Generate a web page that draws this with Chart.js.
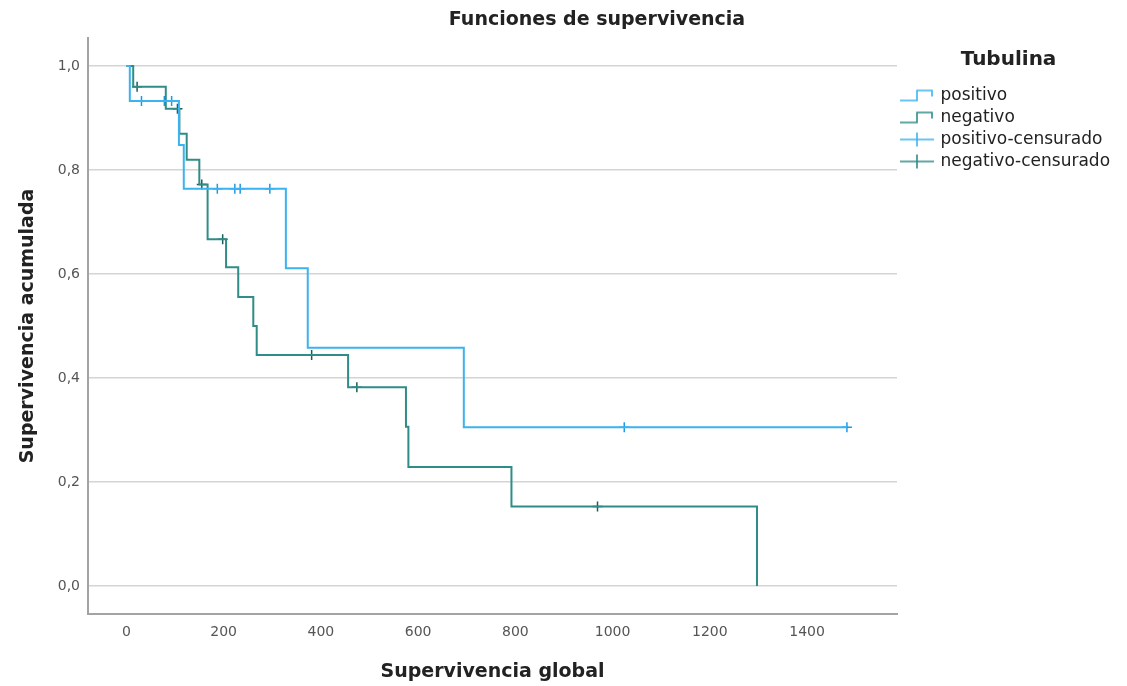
<!DOCTYPE html>
<html>
<head>
<meta charset="utf-8">
<title>Funciones de supervivencia</title>
<script src="https://cdn.jsdelivr.net/npm/chart.js@4.4.1/dist/chart.umd.min.js"></script>
<style>
  html, body { margin: 0; padding: 0; background: #fff; }
  #wrap { width: 1127px; height: 686px; }
</style>
</head>
<body>
<div id="wrap"><canvas id="myChart" width="1127" height="686"></canvas></div>
<script>
// Kaplan-Meier steps: time (days) and cumulative survival after each event
const posTimes = [0, 7, 108, 118, 328, 373, 694, 1482];
const posSurv  = [1, 0.933, 0.848, 0.764, 0.611, 0.458, 0.305, 0.305];
const negTimes = [0, 14, 81, 109, 124, 150, 167, 205, 230, 261, 268, 456, 575, 580, 792, 1297];
const negSurv  = [1, 0.96, 0.918, 0.87, 0.82, 0.772, 0.667, 0.613, 0.556, 0.50, 0.444, 0.382, 0.306, 0.229, 0.153, 0];

// censored cases (+ marks)
const posCensTimes = [31, 78, 93, 187, 223, 234, 295, 1024, 1482];
const posCensSurv  = [0.933, 0.933, 0.933, 0.764, 0.764, 0.764, 0.764, 0.305, 0.305];
const negCensTimes = [22, 105, 155, 198, 381, 474, 969];
const negCensSurv  = [0.96, 0.918, 0.772, 0.667, 0.444, 0.382, 0.153];

const groupNames = ['positivo', 'negativo', 'positivo-censurado', 'negativo-censurado'];
const xTicks = [0, 200, 400, 600, 800, 1000, 1200, 1400];
const yTicks = [0, 0.2, 0.4, 0.6, 0.8, 1.0];

const posColor = '#3bb3f0';
const negColor = '#2f8c86';
const posMark = '#1d9ae6';
const negMark = '#175e59';

const FONT = "'DejaVu Sans', sans-serif";
Chart.defaults.font.family = FONT;

function toPoints(xs, ys) {
  return xs.map((x, i) => ({x: x, y: ys[i]}));
}

// little step / cross pictures for the legend
function stepIcon(color) {
  const c = document.createElement('canvas');
  c.width = 34; c.height = 14;
  const g = c.getContext('2d');
  g.strokeStyle = color;
  g.lineWidth = 1.6;
  g.beginPath();
  g.moveTo(0, 12); g.lineTo(17, 12); g.lineTo(17, 2); g.lineTo(32, 2); g.lineTo(32, 8);
  g.stroke();
  return c;
}
function crossIcon(color) {
  const c = document.createElement('canvas');
  c.width = 34; c.height = 16;
  const g = c.getContext('2d');
  g.strokeStyle = color;
  g.lineWidth = 1.6;
  g.beginPath();
  g.moveTo(0, 8); g.lineTo(34, 8);
  g.moveTo(17, 1); g.lineTo(17, 15);
  g.stroke();
  return c;
}
const legendIcons = [stepIcon(posColor), stepIcon(negColor), crossIcon(posColor), crossIcon(negColor)];

// main heading drawn above the plot
const headingPlugin = {
  id: 'heading',
  afterDraw(chart, args, opts) {
    const ctx = chart.ctx;
    ctx.save();
    ctx.font = 'bold 19px ' + FONT;
    ctx.fillStyle = '#222';
    ctx.textAlign = 'center';
    ctx.textBaseline = 'middle';
    ctx.fillText(opts.text, opts.x, opts.y);
    ctx.restore();
  }
};

const ctx = document.getElementById('myChart');
const chart = new Chart(ctx, {
  type: 'scatter',
  data: {
    datasets: [
      {
        label: groupNames[0],
        data: toPoints(posTimes, posSurv),
        showLine: true,
        stepped: 'before',
        borderColor: posColor,
        borderWidth: 2,
        pointRadius: 0,
        pointHitRadius: 0
      },
      {
        label: groupNames[1],
        data: toPoints(negTimes, negSurv),
        showLine: true,
        stepped: 'before',
        borderColor: negColor,
        borderWidth: 2,
        pointRadius: 0,
        pointHitRadius: 0
      },
      {
        label: groupNames[2],
        data: toPoints(posCensTimes, posCensSurv),
        pointStyle: 'cross',
        pointRadius: 5,
        pointBorderWidth: 1.5,
        borderColor: posMark,
        backgroundColor: posMark
      },
      {
        label: groupNames[3],
        data: toPoints(negCensTimes, negCensSurv),
        pointStyle: 'cross',
        pointRadius: 5,
        pointBorderWidth: 1.5,
        borderColor: negMark,
        backgroundColor: negMark
      }
    ]
  },
  options: {
    responsive: false,
    animation: false,
    devicePixelRatio: 1,
    layout: { padding: { top: 38, right: 0, bottom: 0, left: 0 } },
    scales: {
      x: {
        type: 'linear',
        min: -79,
        max: 1585,
        afterBuildTicks: (s) => { s.ticks = xTicks.map(v => ({value: v})); },
        afterFit: (s) => { s.height = 72; },
        grid: { display: false, drawTicks: false },
        border: { display: true, color: '#a3a3a3', width: 2 },
        ticks: {
          color: '#555',
          font: { size: 14 },
          padding: 10,
          maxRotation: 0,
          callback: (v) => String(v)
        },
        title: {
          display: true,
          text: 'Supervivencia global',
          color: '#222',
          font: { size: 19, weight: 'bold' },
          padding: { top: 0, bottom: 3 }
        }
      },
      y: {
        type: 'linear',
        min: -0.054,
        max: 1.054,
        afterBuildTicks: (s) => { s.ticks = yTicks.map(v => ({value: v})); },
        afterFit: (s) => { s.width = 88; },
        grid: { color: '#d4d4d4', lineWidth: 1.5, drawTicks: false },
        border: { display: true, color: '#a3a3a3', width: 2 },
        ticks: {
          color: '#555',
          font: { size: 14 },
          padding: 8,
          callback: (v) => v.toFixed(1).replace('.', ',')
        },
        title: {
          display: true,
          text: 'Supervivencia acumulada',
          color: '#222',
          font: { size: 19, weight: 'bold' },
          padding: { top: 17, bottom: 0 }
        }
      }
    },
    plugins: {
      tooltip: { enabled: false },
      heading: { text: 'Funciones de supervivencia', x: 597, y: 20 },
      legend: {
        position: 'right',
        align: 'start',
        title: {
          display: true,
          text: 'Tubulina',
          color: '#222',
          font: { size: 20, weight: 'bold' },
          padding: { top: 12, bottom: 8 }
        },
        labels: {
          color: '#222',
          font: { size: 17 },
          padding: 5,
          usePointStyle: true,
          pointStyleWidth: 30,
          generateLabels: () => groupNames.map((name, i) => ({
            text: name,
            pointStyle: legendIcons[i],
            datasetIndex: i,
            hidden: false,
            lineWidth: 0,
            strokeStyle: 'rgba(0,0,0,0)',
            fillStyle: 'rgba(0,0,0,0)',
            fontColor: '#222'
          }))
        }
      }
    }
  },
  plugins: [headingPlugin]
});

// keep the plot's right edge at x = 897, legend beside it
const gap = chart.chartArea.right - 897;
if (Math.abs(gap) > 0.5) {
  chart.options.layout.padding.right += gap;
  chart.update();
}
</script>
</body>
</html>
